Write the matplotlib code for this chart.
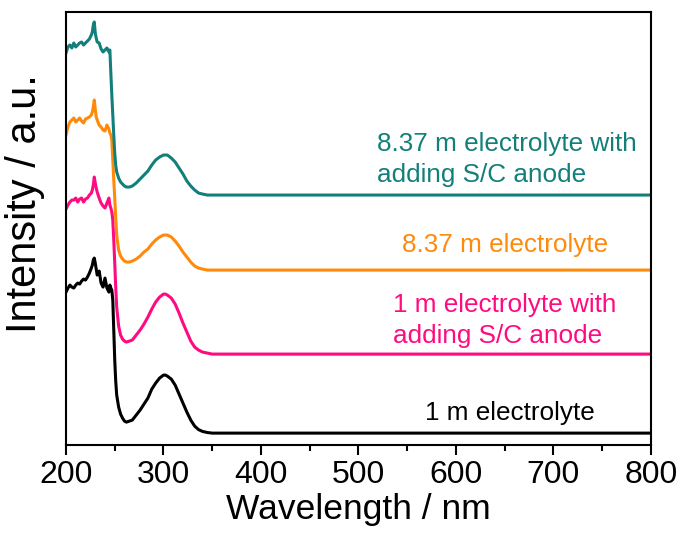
import matplotlib
matplotlib.use('Agg')
from matplotlib import pyplot as plt
from matplotlib.ticker import MultipleLocator

plt.rcParams['font.family'] = ['Liberation Sans', 'DejaVu Sans']

# wavelength grid (nm), shared by all four spectra
wavelength = [200, 202, 204, 206, 208, 210, 212, 214, 216, 218, 220, 222, 224,
              226, 227, 228, 229, 230, 231, 232, 234, 236, 238, 240, 242, 244,
              245, 246, 247, 248, 249, 250, 251, 252, 254, 256, 258, 260, 262,
              265, 268, 272, 276, 280, 284, 288, 292, 296, 300, 302, 304, 308,
              312, 316, 320, 324, 328, 332, 336, 340, 345, 350,
              400, 500, 600, 700, 800]

# intensities (a.u., already offset as in the figure)
teal_837_sc = [3.92, 3.98, 4.00, 3.97, 4.02, 3.98, 4.00, 4.02, 4.03, 4.00, 4.02, 4.04, 4.06,
               4.10, 4.13, 4.20, 4.23, 4.12, 4.07, 4.03, 4.02, 3.96, 3.93, 3.95, 3.97, 3.93,
               3.95, 3.72, 3.50, 3.30, 3.10, 2.92, 2.80, 2.73, 2.67, 2.63, 2.61, 2.59, 2.58,
               2.58, 2.59, 2.62, 2.66, 2.70, 2.74, 2.80, 2.85, 2.88, 2.90, 2.90, 2.90, 2.87,
               2.83, 2.77, 2.71, 2.64, 2.59, 2.55, 2.52, 2.51, 2.50, 2.50,
               2.50, 2.50, 2.50, 2.50, 2.50]
orange_837 = [3.10, 3.18, 3.23, 3.25, 3.27, 3.23, 3.25, 3.27, 3.24, 3.22, 3.26, 3.27, 3.28,
              3.30, 3.33, 3.38, 3.45, 3.36, 3.28, 3.25, 3.20, 3.18, 3.15, 3.14, 3.20, 3.16,
              3.12, 3.10, 3.05, 2.85, 2.65, 2.47, 2.28, 2.10, 1.95, 1.89, 1.86, 1.84, 1.83,
              1.83, 1.84, 1.86, 1.89, 1.93, 1.96, 2.01, 2.05, 2.08, 2.10, 2.10, 2.10, 2.08,
              2.04, 1.99, 1.93, 1.88, 1.83, 1.79, 1.77, 1.76, 1.75, 1.75,
              1.75, 1.75, 1.75, 1.75, 1.75]
pink_1_sc = [2.36, 2.40, 2.43, 2.45, 2.45, 2.47, 2.43, 2.46, 2.47, 2.43, 2.46, 2.47, 2.50,
             2.52, 2.55, 2.60, 2.68, 2.62, 2.57, 2.53, 2.47, 2.42, 2.39, 2.37, 2.42, 2.47,
             2.40, 2.37, 2.33, 2.25, 2.05, 1.82, 1.58, 1.38, 1.19, 1.10, 1.06, 1.04, 1.03,
             1.04, 1.05, 1.10, 1.15, 1.21, 1.28, 1.36, 1.43, 1.48, 1.51, 1.51, 1.50, 1.47,
             1.41, 1.32, 1.22, 1.13, 1.04, 0.98, 0.95, 0.93, 0.92, 0.91,
             0.91, 0.91, 0.91, 0.91, 0.91]
black_1 = [1.53, 1.57, 1.60, 1.58, 1.57, 1.60, 1.62, 1.61, 1.64, 1.66, 1.65, 1.68, 1.72,
           1.77, 1.80, 1.85, 1.87, 1.82, 1.76, 1.70, 1.74, 1.62, 1.58, 1.67, 1.57, 1.53,
           1.60, 1.57, 1.55, 1.45, 1.15, 0.85, 0.64, 0.50, 0.38, 0.31, 0.27, 0.24, 0.23,
           0.24, 0.25, 0.30, 0.35, 0.41, 0.47, 0.56, 0.62, 0.67, 0.70, 0.70, 0.69, 0.66,
           0.60, 0.51, 0.42, 0.33, 0.25, 0.19, 0.155, 0.137, 0.126, 0.12,
           0.12, 0.12, 0.12, 0.12, 0.12]

series = [black_1, pink_1_sc, orange_837, teal_837_sc]
colors = ['#000000', '#ff0a80', '#ff8a0a', '#137f7b']
labels = ['1 m electrolyte', '1 m electrolyte with\nadding S/C anode',
          '8.37 m electrolyte', '8.37 m electrolyte with\nadding S/C anode']
# left edge (nm) and last-line baseline (a.u.) of each label
label_pos = [(568, 0.25), (535, 1.02), (545, 1.93), (519, 2.63)]

fig = plt.figure(figsize=(6.84, 5.35), dpi=100)
ax = fig.add_axes([0.0965, 0.168, 0.855, 0.8096])

for ys, c in zip(series, colors):
    ax.plot(wavelength, ys, color=c, lw=2.2)

for txt, (x, y), c in zip(labels, label_pos, colors):
    ax.text(x, y, txt, color=c, fontsize=18.8, ha='left', va='baseline',
            linespacing=1.38)

ax.set_xlim(200, 800)
ax.set_ylim(0, 4.33)
ax.xaxis.set_major_locator(MultipleLocator(100))
ax.xaxis.set_minor_locator(MultipleLocator(50))
ax.set_yticks([])
ax.tick_params(axis='x', which='major', direction='out', length=7, width=1.5,
               labelsize=23, pad=4)
ax.tick_params(axis='x', which='minor', direction='out', length=4, width=1.5)
for s in ax.spines.values():
    s.set_linewidth(1.5)

ax.set_xlabel('Wavelength / nm', fontsize=25.5, labelpad=2)
ax.set_ylabel('Intensity / a.u.', fontsize=30)
ax.yaxis.set_label_coords(-0.036, 0.557)

plt.savefig('out.png', dpi=100)
